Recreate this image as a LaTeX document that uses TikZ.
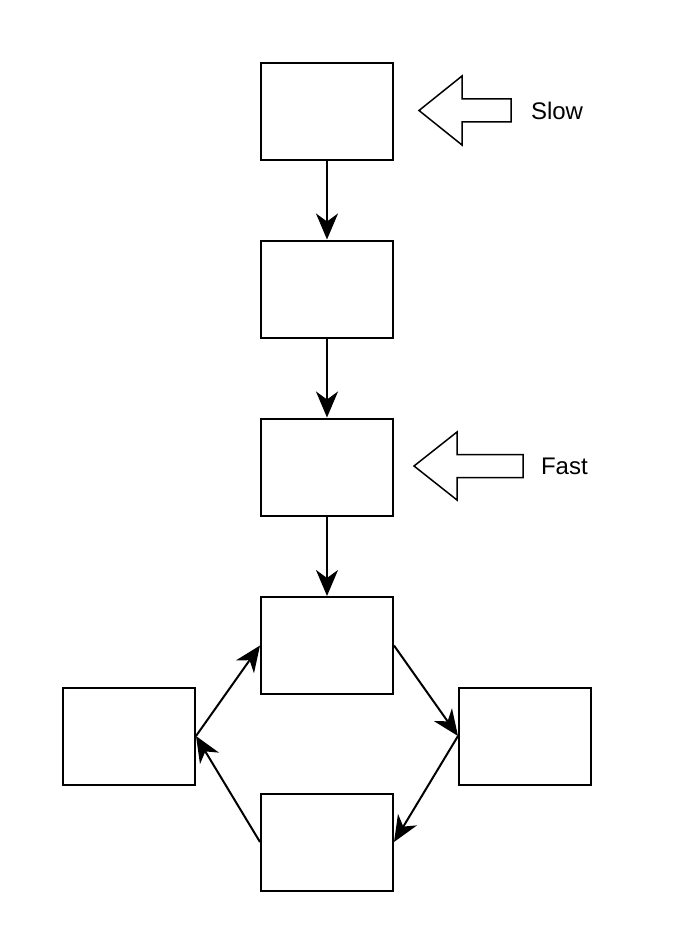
\documentclass[tikz,border=0pt]{standalone}
\usepackage{fontspec}
\setmainfont{Liberation Sans}
\usetikzlibrary{arrows.meta}

\begin{document}
\begin{tikzpicture}[x=1pt, y=-1pt, line width=2pt,
    box/.style={draw, minimum width=132pt, minimum height=97pt, inner sep=0pt},
    flow/.style={-{Stealth[length=26pt, width=22pt, inset=8pt]}},
    label/.style={font=\fontsize{24}{28}\selectfont, anchor=west, inner sep=0pt}]
  \useasboundingbox (0,0) rectangle (672,952);

  % main column
  \node[box] (first)  at (327,111.5) {};
  \node[box] (second) at (327,289)   {};
  \node[box] (third)  at (327,467)   {};
  \node[box] (fourth) at (327,645.5) {};

  % cycle
  \node[box] (left)   at (129,736) {};
  \node[box] (right)  at (525,736) {};
  \node[box] (bottom) at (327,842) {};

  % arrows down the column
  \foreach \a/\b in {first/second, second/third, third/fourth} {
    \draw[flow] (\a.south) -- (\b.north);
  }

  % arrows round the cycle
  \draw[flow] (fourth.east) -- (right.west);
  \draw[flow] (right.west) -- (bottom.east);
  \draw[flow] (bottom.west) -- (left.east);
  \draw[flow] (left.east) -- (fourth.west);

  % block arrows and labels
  \draw[line width=1.5pt, line join=miter] (419,110.5) -- (462,76) -- (462,99) -- (511,99)
    -- (511,122) -- (462,122) -- (462,145) -- cycle;
  \node[label] (slow) at (530,111) {Slow};
  \draw[line width=1.5pt, line join=miter] (414,466) -- (457,432) -- (457,454.5) -- (523,454.5)
    -- (523,477.5) -- (457,477.5) -- (457,500) -- cycle;
  \node[label] (fast) at (540,466) {Fast};
\end{tikzpicture}
\end{document}
